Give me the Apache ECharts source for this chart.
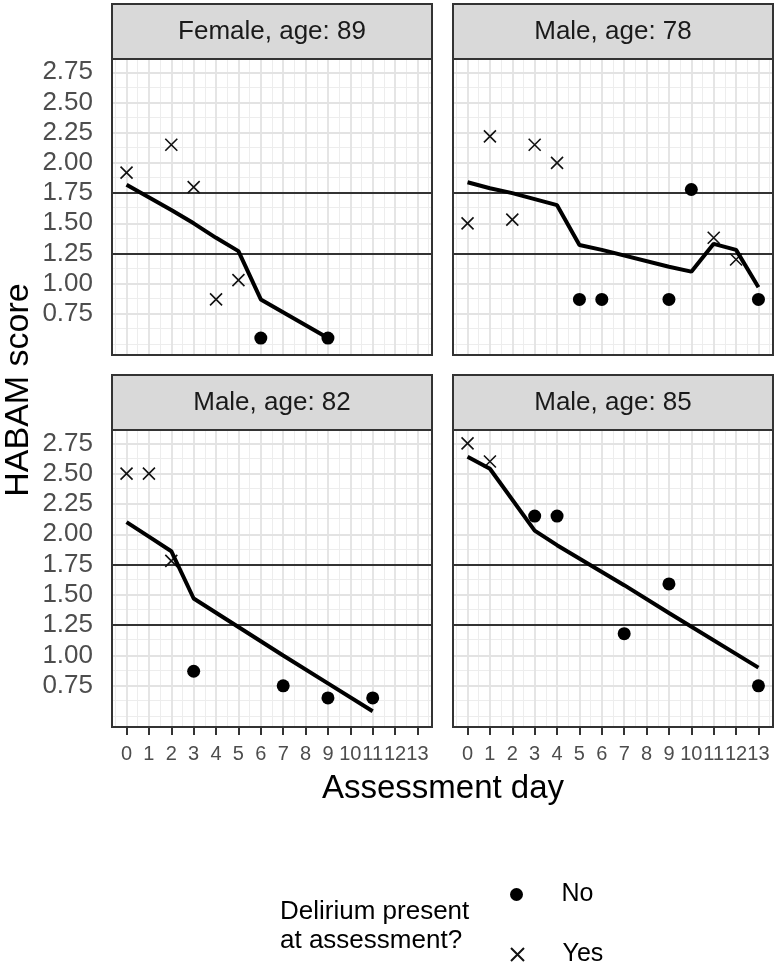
<!DOCTYPE html>
<html>
<head>
<meta charset="utf-8">
<script src="https://cdn.jsdelivr.net/npm/echarts@6/dist/echarts.min.js"></script>
<style>
  html, body { margin: 0; padding: 0; background: #fff; }
  #chart { width: 776px; height: 966px; }
</style>
</head>
<body>
<div id="chart"></div>
<script>
// tick labels
const dayTicks = [0, 1, 2, 3, 4, 5, 6, 7, 8, 9, 10, 11, 12, 13]
const scoreTicks = [0.75, 1.0, 1.25, 1.5, 1.75, 2.0, 2.25, 2.5, 2.75]
const cutoffs = [1.25, 1.75]
const panelTitles = ['Female, age: 89', 'Male, age: 78', 'Male, age: 82', 'Male, age: 85']

// Female, age: 89
const f89NoDay = [6, 9]
const f89NoScore = [0.55, 0.55]
const f89YesDay = [0, 2, 3, 4, 5]
const f89YesScore = [1.92, 2.15, 1.8, 0.87, 1.03]
const f89FitDay = [0, 2, 3, 4, 5, 6, 9]
const f89FitScore = [1.82, 1.61, 1.5, 1.38, 1.27, 0.87, 0.55]

// Male, age: 78
const m78NoDay = [5, 6, 9, 10, 13]
const m78NoScore = [0.87, 0.87, 0.87, 1.78, 0.87]
const m78YesDay = [0, 1, 2, 3, 4, 11, 12]
const m78YesScore = [1.5, 2.22, 1.53, 2.15, 2.0, 1.38, 1.2]
const m78FitDay = [0, 1, 2, 3, 4, 5, 6, 9, 10, 11, 12, 13]
const m78FitScore = [1.84, 1.79, 1.75, 1.7, 1.65, 1.32, 1.28, 1.14, 1.1, 1.33, 1.28, 0.97]

// Male, age: 82
const m82NoDay = [3, 7, 9, 11]
const m82NoScore = [0.87, 0.75, 0.65, 0.65]
const m82YesDay = [0, 1, 2]
const m82YesScore = [2.5, 2.5, 1.78]
const m82FitDay = [0, 1, 2, 3, 7, 9, 11]
const m82FitScore = [2.1, 1.98, 1.86, 1.47, 1.0, 0.77, 0.54]

// Male, age: 85
const m85NoDay = [3, 4, 7, 9, 13]
const m85NoScore = [2.15, 2.15, 1.18, 1.59, 0.75]
const m85YesDay = [0, 1]
const m85YesScore = [2.75, 2.6]
const m85FitDay = [0, 1, 3, 4, 7, 9, 13]
const m85FitScore = [2.64, 2.54, 2.03, 1.91, 1.58, 1.35, 0.9]

const noDays = [f89NoDay, m78NoDay, m82NoDay, m85NoDay]
const noScores = [f89NoScore, m78NoScore, m82NoScore, m85NoScore]
const yesDays = [f89YesDay, m78YesDay, m82YesDay, m85YesDay]
const yesScores = [f89YesScore, m78YesScore, m82YesScore, m85YesScore]
const fitDays = [f89FitDay, m78FitDay, m82FitDay, m85FitDay]
const fitScores = [f89FitScore, m78FitScore, m82FitScore, m85FitScore]

const FONT = 'Liberation Sans, Arial, sans-serif'
const crossPath = 'path://M0,0L10,10M10,0L0,10'
const zip = (xs, ys) => xs.map((x, i) => [x, ys[i]])

// panel layout
const boxes = [
  { left: 112, top: 59, width: 320, height: 296 },
  { left: 453, top: 59, width: 320, height: 296 },
  { left: 112, top: 430, width: 320, height: 297 },
  { left: 453, top: 430, width: 320, height: 297 }
]
const stripH = 55

// grid lines like ggplot theme_bw: majors at breaks, minors halfway
const xMinor = [-0.5].concat(dayTicks.map(d => d + 0.5))
const yMinor = [0.5].concat(scoreTicks.map(v => v - 0.125))
const major = { color: '#e3e3e3', width: 1.8, type: 'solid' }
const minor = { color: '#ededed', width: 1, type: 'solid' }

const grid = []
const xAxis = []
const yAxis = []
const series = []
const graphic = []

boxes.forEach((b, i) => {
  const isLeft = i % 2 === 0
  const isBottom = i >= 2
  grid.push({ left: b.left, top: b.top, width: b.width, height: b.height, show: false })
  xAxis.push({
    type: 'value', gridIndex: i, min: -0.65, max: 13.65,
    splitLine: { show: false },
    axisLine: { show: false },
    axisTick: { show: isBottom, length: 8, customValues: dayTicks, lineStyle: { color: '#333', width: 2 } },
    axisLabel: { show: isBottom, customValues: dayTicks, margin: 17, color: '#4d4d4d', fontSize: 20, fontFamily: FONT }
  })
  yAxis.push({
    type: 'value', gridIndex: i, min: 0.41, max: 2.86,
    splitLine: { show: false },
    axisLine: { show: false },
    axisTick: { show: isLeft, length: 8, customValues: scoreTicks, lineStyle: { color: '#333', width: 2 } },
    axisLabel: {
      show: isLeft, customValues: scoreTicks, margin: 19, color: '#4d4d4d', fontSize: 26, fontFamily: FONT,
      formatter: v => v.toFixed(2)
    }
  })

  // background grid
  const gridLines = []
  xMinor.forEach(v => gridLines.push({ xAxis: v, lineStyle: minor }))
  yMinor.forEach(v => gridLines.push({ yAxis: v, lineStyle: minor }))
  dayTicks.forEach(v => gridLines.push({ xAxis: v, lineStyle: major }))
  scoreTicks.forEach(v => gridLines.push({ yAxis: v, lineStyle: major }))
  series.push({
    type: 'line', xAxisIndex: i, yAxisIndex: i, data: [], z: 1, silent: true,
    markLine: { z: 1, silent: true, symbol: ['none', 'none'], label: { show: false }, data: gridLines }
  })
  // cutoff lines
  series.push({
    type: 'line', xAxisIndex: i, yAxisIndex: i, data: [], z: 2, silent: true,
    markLine: {
      z: 2, silent: true, symbol: ['none', 'none'], label: { show: false },
      lineStyle: { color: '#333', width: 2, type: 'solid' },
      data: cutoffs.map(v => ({ yAxis: v }))
    }
  })
  series.push({
    name: 'No', type: 'scatter', xAxisIndex: i, yAxisIndex: i, z: 3,
    symbol: 'circle', symbolSize: 13,
    itemStyle: { color: '#000', opacity: 1 },
    data: zip(noDays[i], noScores[i])
  })
  series.push({
    name: 'Yes', type: 'scatter', xAxisIndex: i, yAxisIndex: i, z: 3,
    symbol: crossPath, symbolSize: 12,
    itemStyle: { color: 'transparent', borderColor: '#111', borderWidth: 1.6, opacity: 1 },
    data: zip(yesDays[i], yesScores[i])
  })
  series.push({
    type: 'line', xAxisIndex: i, yAxisIndex: i, z: 4,
    showSymbol: false, symbol: 'none',
    lineStyle: { color: '#000', width: 4 },
    data: zip(fitDays[i], fitScores[i])
  })

  // strip + panel border
  graphic.push({
    type: 'rect', silent: true, z: 10,
    shape: { x: b.left, y: b.top - stripH, width: b.width, height: stripH },
    style: { fill: '#d9d9d9', stroke: '#333', lineWidth: 2 }
  })
  graphic.push({
    type: 'text', silent: true, z: 11,
    x: b.left + b.width / 2, y: b.top - stripH / 2,
    style: { text: panelTitles[i], fill: '#1a1a1a', font: '26px ' + FONT, align: 'center', verticalAlign: 'middle' }
  })
  graphic.push({
    type: 'rect', silent: true, z: 10,
    shape: { x: b.left, y: b.top, width: b.width, height: b.height },
    style: { fill: 'none', stroke: '#333', lineWidth: 2 }
  })
})

// axis titles and legend title
graphic.push({
  type: 'text', silent: true, x: 443, y: 789,
  style: { text: 'Assessment day', fill: '#000', font: '33px ' + FONT, align: 'center', verticalAlign: 'middle' }
})
graphic.push({
  type: 'text', silent: true, x: 19, y: 390, rotation: Math.PI / 2,
  style: { text: 'HABAM score', fill: '#000', font: '34px ' + FONT, align: 'center', verticalAlign: 'middle' }
})
graphic.push({
  type: 'text', silent: true, x: 280, y: 926,
  style: { text: 'Delirium present\nat assessment?', fill: '#000', font: '26px ' + FONT, lineHeight: 29, align: 'left', verticalAlign: 'middle' }
})

// one legend per key so they stack like the ggplot guide
const legendBase = {
  orient: 'vertical',
  left: 510,
  padding: 0,
  itemWidth: 80,
  itemHeight: 13,
  selectedMode: false,
  textStyle: { color: '#000', fontSize: 25, fontFamily: FONT, lineHeight: 24 }
}

const option = {
  animation: false,
  backgroundColor: '#fff',
  grid: grid,
  xAxis: xAxis,
  yAxis: yAxis,
  legend: [
    Object.assign({}, legendBase, { top: 882, data: [{ name: 'No', icon: 'circle' }] }),
    Object.assign({}, legendBase, { top: 942, data: [{ name: 'Yes', icon: crossPath }] })
  ],
  graphic: graphic,
  series: series
}

const myChart = echarts.init(document.getElementById('chart'))
myChart.setOption(option)
</script>
</body>
</html>
